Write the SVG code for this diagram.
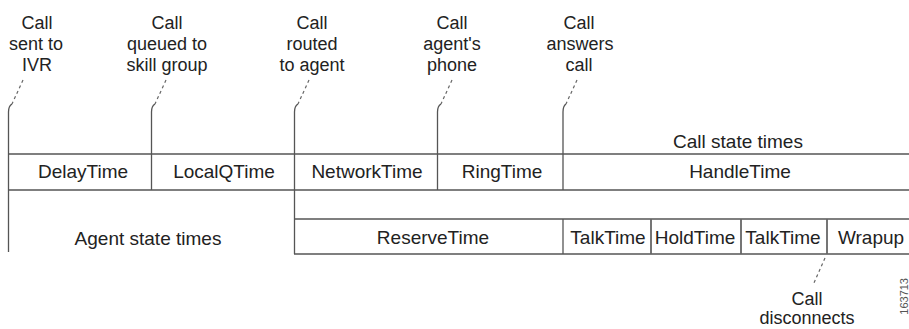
<svg xmlns="http://www.w3.org/2000/svg" width="909" height="329" viewBox="0 0 909 329">
<style>
.ln{stroke:#555;stroke-width:1.3;fill:none}
.dv{stroke:#666;stroke-width:1.8;fill:none}
.ds{stroke:#666;stroke-width:1.2;fill:none;stroke-dasharray:3,3}
.t{font-family:"Liberation Sans",Arial,sans-serif;font-size:19px;fill:#222;text-anchor:middle}
.h{font-family:"Liberation Sans",Arial,sans-serif;font-size:18px;fill:#222;text-anchor:middle}
</style>
<rect width="909" height="329" fill="#fff"/>
<g id="connectors">
<path class="ds" d="M23 80 L12 104"/>
<path class="ln" d="M12 104 Q8.5 106 8.5 112 L8.5 252"/>
<path class="ds" d="M166 80 L155 104"/>
<path class="ln" d="M155 104 Q151.5 106 151.5 112 L151.5 190"/>
<path class="ds" d="M309 80 L298 104"/>
<path class="ln" d="M298 104 Q294.5 106 294.5 112 L294.5 254"/>
<path class="ds" d="M452 80 L441 104"/>
<path class="ln" d="M441 104 Q437.5 106 437.5 112 L437.5 190"/>
<path class="ds" d="M577 80 L566 104"/>
<path class="ln" d="M566 104 Q563 106 563 112 L563 190"/>
<path class="ds" d="M825 258 L813 285"/>
</g>
<g id="call-state-row">
<line class="ln" x1="8" y1="154" x2="909" y2="154"/>
<line class="ln" x1="8" y1="190" x2="909" y2="190"/>
<text class="t" x="738" y="148">Call state times</text>
</g>
<g id="delaytime"><text class="t" x="83" y="178">DelayTime</text></g>
<g id="localqtime"><text class="t" x="224" y="178">LocalQTime</text></g>
<g id="networktime"><text class="t" x="367" y="178">NetworkTime</text></g>
<g id="ringtime"><text class="t" x="502" y="178">RingTime</text></g>
<g id="handletime"><text class="t" x="740" y="178">HandleTime</text></g>
<g id="agent-state-row">
<line class="ln" x1="294" y1="219" x2="909" y2="219"/>
<line class="ln" x1="294" y1="254" x2="909" y2="254"/>
<line class="ln" x1="563" y1="219" x2="563" y2="254"/>
<line class="dv" x1="651" y1="219" x2="651" y2="254"/>
<line class="dv" x1="741" y1="219" x2="741" y2="254"/>
<line class="dv" x1="827" y1="219" x2="827" y2="254"/>
<text class="t" x="148" y="245">Agent state times</text>
</g>
<g id="reservetime"><text class="t" x="433" y="244">ReserveTime</text></g>
<g id="talktime1"><text class="t" x="608" y="244">TalkTime</text></g>
<g id="holdtime"><text class="t" x="695" y="244">HoldTime</text></g>
<g id="talktime2"><text class="t" x="783" y="244">TalkTime</text></g>
<g id="wrapup"><text class="t" x="871" y="244">Wrapup</text></g>
<g id="ev-ivr"><text class="h" x="37" y="29">Call</text><text class="h" x="36" y="50">sent to</text><text class="h" x="37" y="71">IVR</text></g>
<g id="ev-queued"><text class="h" x="167" y="29">Call</text><text class="h" x="167" y="50">queued to</text><text class="h" x="167" y="71">skill group</text></g>
<g id="ev-routed"><text class="h" x="312" y="29">Call</text><text class="h" x="312" y="50">routed</text><text class="h" x="312" y="71">to agent</text></g>
<g id="ev-phone"><text class="h" x="452" y="29">Call</text><text class="h" x="452" y="50">agent's</text><text class="h" x="452" y="71">phone</text></g>
<g id="ev-answers"><text class="h" x="579" y="29">Call</text><text class="h" x="580" y="50">answers</text><text class="h" x="579" y="71">call</text></g>
<g id="ev-disconnects"><text class="h" x="807" y="305">Call</text><text class="h" x="807" y="324">disconnects</text></g>
<text transform="translate(908,278) rotate(-90)" font-family="Liberation Sans,Arial,sans-serif" font-size="11" fill="#555" text-anchor="end">163713</text>
</svg>
